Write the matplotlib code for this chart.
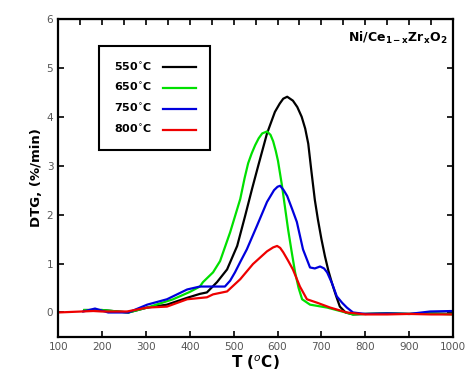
import numpy as np
import matplotlib.pyplot as plt

# DTG curves (T in degC, DTG in %/min)
t_550 = [160, 200, 260, 303, 348, 394, 423, 439, 462, 485, 508, 526, 542, 556, 576, 594,
         605, 613, 622, 635, 645, 655, 663, 670, 677, 685, 692, 700, 708, 716, 724, 733,
         742, 755, 772, 800, 850, 900, 950, 1000]
dtg_550 = [0.05, 0.05, 0.0, 0.1, 0.16, 0.3, 0.38, 0.41, 0.62, 0.88, 1.36, 1.97, 2.53, 3.0,
           3.66, 4.1, 4.27, 4.37, 4.41, 4.33, 4.2, 4.0, 3.76, 3.45, 2.9, 2.3, 1.9, 1.5,
           1.15, 0.85, 0.6, 0.35, 0.12, 0.0, -0.04, -0.03, -0.02, -0.03, -0.02, -0.03]

t_650 = [160, 200, 260, 303, 362, 400, 423, 430, 453, 469, 492, 515, 525, 533, 541, 549,
         557, 565, 576, 584, 590, 596, 601, 610, 617, 624, 632, 640, 648, 656, 674, 713,
         772, 800, 850, 900, 950, 1000]
dtg_650 = [0.05, 0.05, 0.0, 0.1, 0.27, 0.42, 0.53, 0.62, 0.82, 1.05, 1.64, 2.32, 2.75,
           3.05, 3.25, 3.42, 3.56, 3.66, 3.7, 3.63, 3.5, 3.3, 3.1, 2.6, 2.15, 1.7, 1.25,
           0.82, 0.5, 0.27, 0.16, 0.1, -0.04, -0.03, -0.02, -0.03, -0.02, -0.04]

t_750 = [157, 184, 214, 260, 303, 348, 394, 423, 453, 480, 492, 503, 516, 530, 553, 576,
         592, 600, 606, 614, 622, 633, 644, 658, 674, 685, 697, 706, 713, 724, 735, 747,
         758, 772, 800, 850, 900, 948, 1000]
dtg_750 = [0.02, 0.08, 0.0, 0.0, 0.16, 0.27, 0.47, 0.53, 0.53, 0.53, 0.65, 0.82, 1.05,
           1.29, 1.77, 2.26, 2.5, 2.57, 2.59, 2.5, 2.38, 2.12, 1.85, 1.29, 0.92, 0.9, 0.94,
           0.9, 0.82, 0.6, 0.33, 0.2, 0.1, 0.0, -0.03, -0.02, -0.03, 0.02, 0.03]

t_800 = [100, 180, 200, 257, 303, 348, 394, 439, 453, 485, 515, 544, 576, 590, 599, 606,
         613, 624, 635, 651, 667, 690, 720, 758, 800, 850, 900, 950, 1000]
dtg_800 = [0.0, 0.03, 0.02, 0.02, 0.1, 0.12, 0.27, 0.31, 0.37, 0.43, 0.68, 0.99, 1.25,
           1.33, 1.36, 1.32, 1.23, 1.06, 0.88, 0.53, 0.27, 0.2, 0.1, 0.0, -0.04, -0.04,
           -0.03, -0.04, -0.04]

labels = ['550$^{\\circ}$C', '650$^{\\circ}$C', '750$^{\\circ}$C', '800$^{\\circ}$C']
colors = ['black', '#00e000', '#0000dd', '#ee0000']

fig = plt.figure(figsize=(4.69, 3.79), dpi=100)
ax = fig.add_axes([0.124, 0.111, 0.842, 0.839])

series = [(t_550, dtg_550), (t_650, dtg_650), (t_750, dtg_750), (t_800, dtg_800)]
for (t, d), lab, c in zip(series, labels, colors):
    ax.plot(t, d, color=c, lw=1.6, label=lab)

ax.set_xlim(100, 1000)
ax.set_ylim(-0.5, 6)
ax.set_xticks(np.arange(100, 1001, 100))
ax.set_yticks(np.arange(0, 7, 1))
ax.tick_params(direction='in', length=4, width=1.2, labelsize=7.5, labelcolor='#555555',
               right=True)
for s in ax.spines.values():
    s.set_linewidth(1.6)

# top axis has ticks every 50
sec = ax.secondary_xaxis('top')
sec.set_xticks(np.arange(150, 1000, 50))
sec.tick_params(direction='in', length=4, width=1.2, labeltop=False)

ax.set_xlabel('T ($^{o}$C)', fontsize=11, fontweight='bold', labelpad=1)
ax.set_ylabel('DTG, (%/min)', fontsize=9.5, fontweight='bold', labelpad=3)

ax.text(0.985, 0.965, 'Ni/Ce$_{\\mathbf{1-x}}$Zr$_{\\mathbf{x}}$O$_{\\mathbf{2}}$',
        transform=ax.transAxes, ha='right', va='top', fontsize=9, fontweight='bold')

leg = ax.legend(loc='upper left', bbox_to_anchor=(0.104, 0.915), markerfirst=False,
                fancybox=False, framealpha=1, edgecolor='black', fontsize=8,
                handlelength=3.0, labelspacing=0.8, borderpad=1.3, handletextpad=1.0,
                borderaxespad=0)
leg.get_frame().set_linewidth(1.5)
for txt in leg.get_texts():
    txt.set_fontweight('bold')

plt.savefig('out.png', dpi=100)
